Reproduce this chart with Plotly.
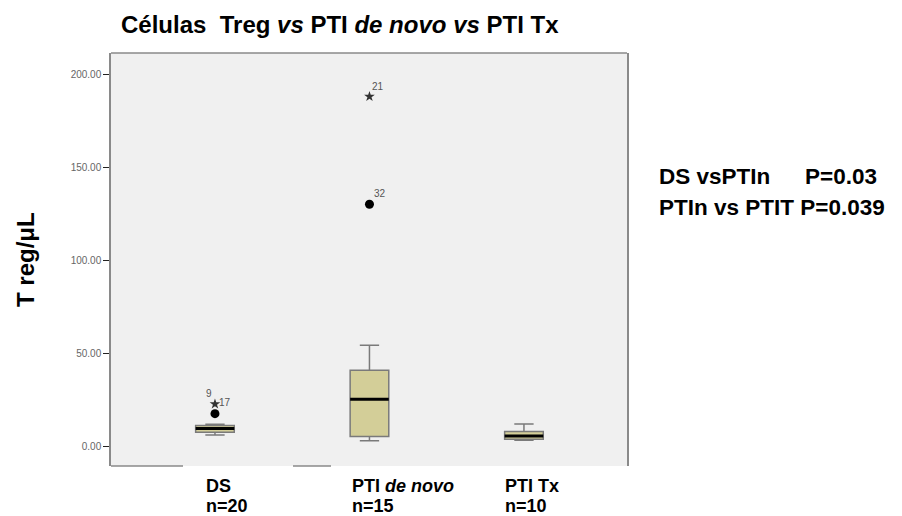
import plotly.graph_objects as go

# ---------------- data ----------------
groups = ["DS", "PTI de novo", "PTI Tx"]
group_names = ["<b>DS</b>", "<b>PTI <i>de novo</i></b>", "<b>PTI Tx</b>"]
group_n = ["<b>n=20</b>", "<b>n=15</b>", "<b>n=10</b>"]
lower_whisker = [6.3, 3.1, 3.4]
q1 = [7.7, 5.4, 4.0]
median = [9.7, 25.4, 5.7]
q3 = [11.3, 41.0, 8.1]
upper_whisker = [12.0, 54.4, 12.2]

outlier_group = [0, 0, 1, 1]
outlier_value = [17.7, 22.9, 130.2, 188.0]
outlier_kind = ["circle", "star", "circle", "star"]
outlier_id = ["9", "17", "32", "21"]

ytick_vals = [0, 50, 100, 150, 200]
ytick_text = ["0.00", "50.00", "100.00", "150.00", "200.00"]

# ---------------- layout helpers ----------------
W, H = 902, 516
L, R, T, B = 111, 627, 53, 466
PW, PH = R - L, B - T
FONT = "Liberation Sans, Arial, sans-serif"


def fx(px):
    return (px - L) / PW


def fy(py):
    return (B - py) / PH


xpos = list(range(len(groups)))
BOX_W = 0.25

fig = go.Figure()

fig.add_trace(go.Box(
    x=xpos, q1=q1, median=median, q3=q3,
    lowerfence=lower_whisker, upperfence=upper_whisker,
    width=BOX_W, whiskerwidth=0.5,
    fillcolor="#D3CE98",
    line=dict(color="#7a7a7a", width=1.5),
    boxpoints=False, showlegend=False, hoverinfo="skip",
))

# black median bars
mx, my = [], []
for i, m in zip(xpos, median):
    mx += [i - BOX_W / 2, i + BOX_W / 2, None]
    my += [m, m, None]
fig.add_trace(go.Scatter(x=mx, y=my, mode="lines",
                         line=dict(color="black", width=3),
                         showlegend=False, hoverinfo="skip"))

# outliers
for kind, sym, size, col in [("circle", "circle", 9, "black"),
                             ("star", "star", 8, "#333333")]:
    xs = [xpos[g] for g, k in zip(outlier_group, outlier_kind) if k == kind]
    ys = [v for v, k in zip(outlier_value, outlier_kind) if k == kind]
    fig.add_trace(go.Scatter(x=xs, y=ys, mode="markers",
                             marker=dict(symbol=sym, size=size, color=col,
                                         line=dict(width=0)),
                             showlegend=False, hoverinfo="skip"))

label_shift = {"9": (-6, 20), "17": (10, 1), "32": (11, 11), "21": (9, 10)}
annotations = []
for g, v, lab in zip(outlier_group, outlier_value, outlier_id):
    dx, dy = label_shift[lab]
    annotations.append(dict(x=xpos[g], y=v, xref="x", yref="y", text=lab,
                            showarrow=False, xanchor="center", yanchor="middle",
                            xshift=dx, yshift=dy,
                            font=dict(family=FONT, size=10, color="#555555")))

# category labels (left aligned, two lines)
cat_shift = [-11, -19, -21]
for i, (nm, n, s) in enumerate(zip(group_names, group_n, cat_shift)):
    for txt, py in [(nm, 486), (n, 506)]:
        annotations.append(dict(x=xpos[i], y=fy(py), xref="x", yref="paper",
                                text=txt, showarrow=False, align="left",
                                xanchor="left", yanchor="middle", xshift=s,
                                font=dict(family=FONT, size=18, color="black")))

# title
annotations.append(dict(
    x=fx(119), y=fy(25), xref="paper", yref="paper", showarrow=False,
    xanchor="left", yanchor="middle",
    text="<b>Células&nbsp; Treg <i>vs</i> PTI <i>de novo</i> <i>vs</i> PTI Tx</b>",
    font=dict(family=FONT, size=24, color="black")))

# y title
annotations.append(dict(
    x=fx(25), y=fy(260), xref="paper", yref="paper", showarrow=False,
    xanchor="center", yanchor="middle", textangle=-90,
    text="<b>T reg/μL</b>", font=dict(family=FONT, size=24, color="black")))

# p-values
PFS = 22.5
annotations += [
    dict(x=fx(657), y=fy(176), xref="paper", yref="paper", showarrow=False,
         xanchor="left", yanchor="middle", text="<b>DS vsPTIn</b>",
         font=dict(family=FONT, size=PFS, color="black")),
    dict(x=fx(803), y=fy(176), xref="paper", yref="paper", showarrow=False,
         xanchor="left", yanchor="middle", text="<b>P=0.03</b>",
         font=dict(family=FONT, size=PFS, color="black")),
    dict(x=fx(657), y=fy(207), xref="paper", yref="paper", showarrow=False,
         xanchor="left", yanchor="middle", text="<b>PTIn vs PTIT P=0.039</b>",
         font=dict(family=FONT, size=PFS, color="black")),
]

shapes = [
    dict(type="line", xref="paper", yref="paper", x0=0, x1=1, y0=1, y1=1,
         line=dict(color="#8a8a8a", width=1.5)),
    dict(type="line", xref="paper", yref="paper", x0=0, x1=fx(183), y0=0, y1=0,
         line=dict(color="#8a8a8a", width=1.5)),
    dict(type="line", xref="paper", yref="paper", x0=fx(293), x1=fx(331), y0=0, y1=0,
         line=dict(color="#8a8a8a", width=1.5)),
]

fig.update_layout(
    width=W, height=H,
    margin=dict(l=L, r=W - R, t=T, b=H - B, pad=0),
    paper_bgcolor="white", plot_bgcolor="#F0F0F0",
    font=dict(family=FONT),
    xaxis=dict(range=[-0.673, 2.667], showticklabels=False, ticks="",
               showgrid=False, zeroline=False, showline=False, fixedrange=True),
    yaxis=dict(range=[-10.4, 211.4], tickvals=ytick_vals, ticktext=ytick_text,
               ticks="outside", ticklen=6, tickwidth=1.2, tickcolor="#222",
               tickfont=dict(family=FONT, size=10, color="#666666"),
               showgrid=False, zeroline=False, showline=True,
               linecolor="#8a8a8a", linewidth=1.5, mirror=True),
    annotations=annotations, shapes=shapes, showlegend=False,
)

fig.write_html("out.html", config={"displayModeBar": False},
               post_script="document.body.style.margin='0';document.body.style.overflow='hidden';")
